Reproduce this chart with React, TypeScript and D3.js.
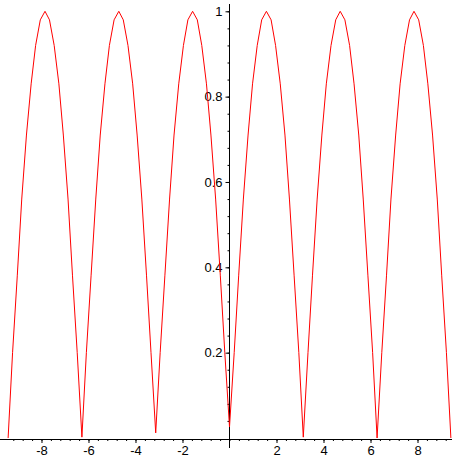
import React, { useRef, useEffect } from 'react'
import { select, scaleLinear, line, axisBottom, axisLeft, range } from 'd3'

// sample points (x in plot units)
const xs = [
    -9.42, -9.23, -9.03, -8.84, -8.64, -8.44, -8.25, -8.05, -7.85, -7.66, -7.46, -7.26, -7.07, -6.87, -6.68, -6.48,
    -6.28, -6.09, -5.89, -5.69, -5.50, -5.30, -5.11, -4.91, -4.71, -4.52, -4.32, -4.12, -3.93, -3.73, -3.53, -3.34,
    -3.14, -2.95, -2.75, -2.55, -2.36, -2.16, -1.96, -1.77, -1.57, -1.37, -1.18, -0.98, -0.79, -0.59, -0.39, -0.20,
    0, 0.20, 0.39, 0.59, 0.79, 0.98, 1.18, 1.37, 1.57, 1.77, 1.96, 2.16, 2.36, 2.55, 2.75, 2.95,
    3.14, 3.34, 3.53, 3.73, 3.93, 4.12, 4.32, 4.52, 4.71, 4.91, 5.11, 5.30, 5.50, 5.69, 5.89, 6.09,
    6.28, 6.48, 6.68, 6.87, 7.07, 7.26, 7.46, 7.66, 7.85, 8.05, 8.25, 8.44, 8.64, 8.84, 9.03, 9.23,
    9.42,
]
const ys = [
    0, 0.20, 0.38, 0.56, 0.71, 0.83, 0.92, 0.98, 1, 0.98, 0.92, 0.83, 0.71, 0.56, 0.38, 0.20,
    0.002, 0.20, 0.38, 0.56, 0.71, 0.83, 0.92, 0.98, 1, 0.98, 0.92, 0.83, 0.71, 0.56, 0.38, 0.20,
    0.012, 0.20, 0.38, 0.56, 0.71, 0.83, 0.92, 0.98, 1, 0.98, 0.92, 0.83, 0.71, 0.56, 0.38, 0.20,
    0.026, 0.20, 0.38, 0.56, 0.71, 0.83, 0.92, 0.98, 1, 0.98, 0.92, 0.83, 0.71, 0.56, 0.38, 0.20,
    0.002, 0.20, 0.38, 0.56, 0.71, 0.83, 0.92, 0.98, 1, 0.98, 0.92, 0.83, 0.71, 0.56, 0.38, 0.20,
    0, 0.20, 0.38, 0.56, 0.71, 0.83, 0.92, 0.98, 1, 0.98, 0.92, 0.83, 0.71, 0.56, 0.38, 0.20,
    0,
]

const xTicks = [-8, -6, -4, -2, 2, 4, 6, 8]
const yTicks = [0.2, 0.4, 0.6, 0.8, 1]
const xDomain = [-9.4248, 9.4248]
const yDomain = [0, 1]

const App = () => {
    const svgRef = useRef<any>()

    useEffect(() => {
        const svg = select(svgRef.current)
        svg.selectAll('*').remove()

        const x = scaleLinear().domain(xDomain).range([8, 451])
        const y = scaleLinear().domain(yDomain).range([438, 11.3])

        // minor tick positions
        const xMinor = range(-9.2, 9.3, 0.4).map(v => Math.round(v * 10) / 10)
        const yMinor = range(0.04, 1.001, 0.04).map(v => Math.round(v * 100) / 100)

        const font = '"Liberation Sans", Arial, sans-serif'

        // x axis
        const gx = svg.append('g').attr('transform', `translate(0,${y(0) + 1})`)
        gx.call(axisBottom(x).tickValues(xMinor).tickSize(2).tickFormat(() => ''))
        gx.select('.domain').remove()
        const gx2 = svg.append('g').attr('transform', `translate(0,${y(0) + 1})`)
        gx2.call(axisBottom(x).tickValues(xTicks).tickSize(4).tickPadding(3).tickFormat(d => String(d)))
        gx2.select('.domain').remove()
        gx2.selectAll('text').attr('font-size', 13).attr('font-family', font).attr('fill', '#000')
        svg.append('line')
            .attr('x1', 0).attr('x2', 452)
            .attr('y1', y(0) + 1.5).attr('y2', y(0) + 1.5)
            .attr('stroke', '#000')

        // y axis
        const gy = svg.append('g').attr('transform', `translate(${x(0)},0)`)
        gy.call(axisLeft(y).tickValues(yMinor).tickSize(2).tickFormat(() => ''))
        gy.select('.domain').remove()
        const gy2 = svg.append('g').attr('transform', `translate(${x(0)},0)`)
        gy2.call(axisLeft(y).tickValues(yTicks).tickSize(4).tickPadding(3).tickFormat(d => String(d)))
        gy2.select('.domain').remove()
        gy2.selectAll('text').attr('font-size', 13).attr('font-family', font).attr('fill', '#000')
        svg.append('line')
            .attr('x1', x(0)).attr('x2', x(0))
            .attr('y1', 4).attr('y2', 448)
            .attr('stroke', '#000')

        // the curve
        const pts = xs.map((v, i) => [v, ys[i]] as [number, number])
        svg.append('path')
            .datum(pts)
            .attr('fill', 'none')
            .attr('stroke', '#ff0000')
            .attr('stroke-width', 1)
            .attr('d', line<[number, number]>().x(d => x(d[0])).y(d => y(d[1])))
    }, [])

    return (
        <svg
            ref={svgRef}
            width={459}
            height={459}
            style={{ position: 'absolute', left: 0, top: 0, background: '#fff' }}
        />
    )
}

export default App
